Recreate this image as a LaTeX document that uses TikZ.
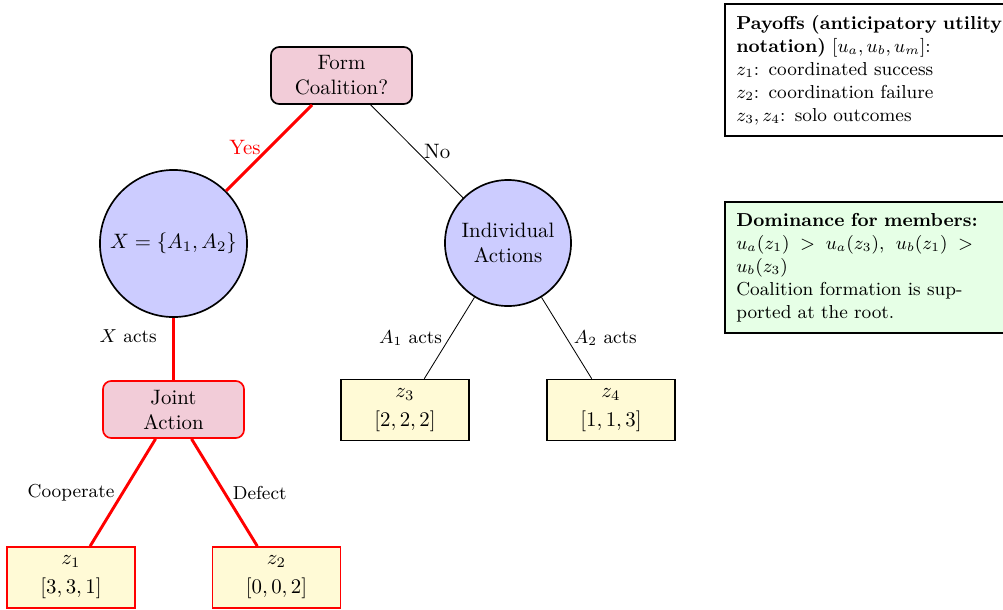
\documentclass[tikz,border=0pt]{standalone}
\definecolor{decpink}{RGB}{242,204,216}
\definecolor{chanceblue}{RGB}{204,204,255}
\definecolor{leafyellow}{RGB}{255,250,214}
\definecolor{notegreen}{RGB}{230,255,230}
\begin{document}
\begin{tikzpicture}[x=0.48pt,y=-0.48pt,
  decision/.style={draw, thick, rounded corners=4pt, fill=decpink, minimum width=67.7pt, minimum height=27.4pt, align=center, inner sep=2pt},
  chance/.style={circle, draw, thick, fill=chanceblue, align=center, inner sep=1pt},
  leaf/.style={draw, thick, fill=leafyellow, minimum width=61.4pt, minimum height=29.3pt, align=center, inner sep=2pt},
  redpath/.style={red, line width=1.4pt},
  plainpath/.style={black, line width=0.4pt},
  lab/.style={font=\small, text=black},
  note/.style={draw, thick, anchor=north west, align=left, font=\small, text width=140pt, inner xsep=5.5pt, inner ysep=5.5pt}]
\useasboundingbox (0,0) rectangle (1003,609);
% nodes
\node[decision] (root) at (341.5,75.5) {Form\\Coalition?};
\node[chance, minimum size=70.6pt] (X) at (173.5,243.5) {$X=\{A_1,A_2\}$};
\node[chance, minimum size=60.5pt] (ind) at (508,243) {Individual\\Actions};
\node[decision, draw=red] (joint) at (173.5,409.5) {Joint\\Action};
\node[leaf, draw=red] (z1) at (71,577.5) {$z_1$\\[2pt]$[3,3,1]$};
\node[leaf, draw=red] (z2) at (276.5,577.5) {$z_2$\\[2pt]$[0,0,2]$};
\node[leaf] (z3) at (405,410) {$z_3$\\[2pt]$[2,2,2]$};
\node[leaf] (z4) at (611,410) {$z_4$\\[2pt]$[1,1,3]$};
% connectors
\draw[redpath] (root) -- node[midway, left, text=red] {Yes} (X);
\draw[plainpath] (root) -- node[midway, right] {No} (ind);
\draw[redpath] (X) -- node[pos=0.3, left, lab, xshift=-4pt] {$X$ acts} (joint);
\draw[plainpath] (ind) -- node[midway, left, lab] {$A_1$ acts} (z3);
\draw[plainpath] (ind) -- node[midway, right, lab] {$A_2$ acts} (z4);
\draw[redpath] (joint) -- node[midway, left, lab] {Cooperate} (z1);
\draw[redpath] (joint) -- node[midway, right, lab] {Defect} (z2);
% notes
\node[note, fill=white] (payoffs) at (724,3) {\textbf{Payoffs (anticipatory utility}\\
\textbf{notation)} $[u_a,u_b,u_m]$:\\
$z_1$: coordinated success\\
$z_2$: coordination failure\\
$z_3,z_4$: solo outcomes};
\node[note, fill=notegreen] (dominance) at (724,201) {\textbf{Dominance for members:}\\
$u_a(z_1)\;>\;u_a(z_3)$,\; $u_b(z_1)\;>$\\
$u_b(z_3)$\\
Coalition formation is sup-\\
ported at the root.};
\end{tikzpicture}
\end{document}
